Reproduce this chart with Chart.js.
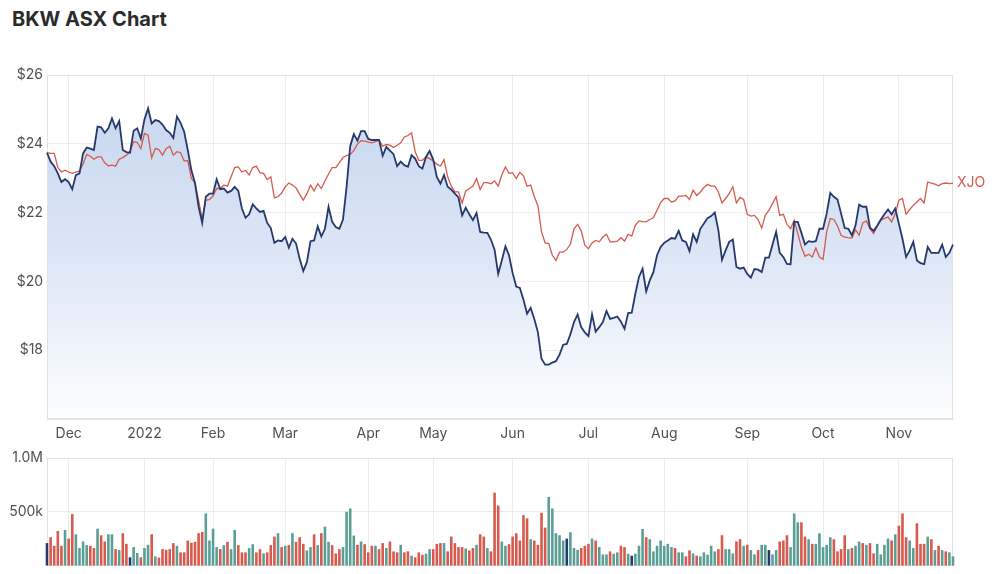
<!DOCTYPE html>
<html><head><meta charset="utf-8">
<script src="https://cdn.jsdelivr.net/npm/chart.js@4.4.0/dist/chart.umd.min.js"></script>
<style>
html,body{margin:0;padding:0;background:#fff;width:1000px;height:574px;overflow:hidden;}
#title{position:absolute;left:12px;top:7px;font:bold 20px Inter, sans-serif;color:#2b2b2b;}
canvas{position:absolute;left:0;}
</style></head><body>
<div id="title">BKW ASX Chart</div>
<canvas id="price" width="1000" height="450" style="top:0"></canvas>
<canvas id="vol" width="1000" height="134" style="top:444px"></canvas>
<script>
// ---- data ----
const startDate = '2021-11-23';
const endDate = '2022-11-22';
const holidays = ['2021-12-27','2021-12-28','2022-01-03','2022-01-26','2022-04-15','2022-04-18','2022-04-25','2022-06-13','2022-09-22'];
const monthNames = ['Jan','Feb','Mar','Apr','May','Jun','Jul','Aug','Sep','Oct','Nov','Dec'];
const priceTicks = [26,24,22,20,18];
const volumeTicks = [1000000,500000];
const seriesLabel = 'XJO';

const bkw = [
23.74,23.48,23.35,23.14,22.89,22.97,22.89,22.68,23.09,23.14,
23.72,23.89,23.86,23.82,24.50,24.48,24.32,24.45,24.74,24.45,
24.66,23.82,23.76,23.74,24.38,24.45,24.15,24.71,25.03,24.59,
24.69,24.66,24.56,24.40,24.32,24.17,24.79,24.61,24.35,23.82,
23.23,22.86,22.17,21.70,22.46,22.55,22.55,22.97,22.68,22.70,
22.58,22.63,22.75,22.63,22.12,21.85,21.95,22.24,22.12,22.02,
22.05,21.70,21.55,21.12,21.19,21.17,21.29,20.98,21.24,21.10,
20.66,20.30,20.56,21.17,21.19,21.60,21.31,21.53,22.17,21.73,
21.58,21.53,21.80,22.75,23.93,24.28,24.09,24.37,24.37,24.14,
24.11,24.11,24.11,23.65,23.91,23.80,23.70,23.35,23.48,23.38,
23.33,23.67,23.57,23.35,23.28,23.62,23.79,23.54,23.04,22.84,
23.09,22.75,22.67,22.55,22.44,21.92,22.14,21.95,21.78,21.99,
21.44,21.42,21.41,21.21,20.92,20.22,20.61,21.02,20.76,20.24,
19.85,19.81,19.47,19.06,19.23,18.91,18.52,17.75,17.58,17.58,
17.64,17.68,17.87,18.16,18.18,18.46,18.82,19.04,18.67,18.52,
18.41,19.04,18.54,18.67,18.82,19.14,18.91,18.94,18.98,18.83,
18.62,19.08,19.09,19.64,20.13,20.37,19.71,20.03,20.27,20.76,
21.00,21.12,21.19,21.26,21.24,21.47,21.19,21.15,20.88,21.37,
21.15,21.53,21.68,21.84,21.90,22.00,21.49,20.63,20.90,21.15,
21.22,20.42,20.37,20.40,20.22,20.11,20.36,20.34,20.27,20.69,
20.69,21.07,21.44,20.83,20.71,20.51,20.50,21.73,21.73,21.41,
21.07,21.17,21.15,21.17,21.53,21.53,21.97,22.57,22.46,22.38,
21.97,21.55,21.53,21.34,21.63,22.23,22.17,22.17,21.56,21.47,
21.62,21.80,21.95,22.09,21.95,22.12,21.68,21.24,20.71,20.90,
21.15,20.61,20.53,20.50,21.00,20.83,20.83,20.83,21.07,20.71,
20.83,21.07];

const xjo = [
23.74,23.72,23.72,23.31,23.18,23.23,23.18,23.14,23.18,23.21,
23.41,23.69,23.64,23.55,23.62,23.62,23.45,23.36,23.38,23.35,
23.55,23.60,23.67,23.77,24.06,24.04,23.86,24.30,24.25,23.59,
23.86,23.83,23.67,23.86,23.93,23.67,23.77,23.74,23.50,23.51,
22.99,22.86,22.36,21.80,22.36,22.38,22.48,22.70,22.70,22.80,
22.77,23.04,23.31,23.33,23.18,23.23,23.09,23.31,23.35,23.16,
23.14,22.96,23.04,22.43,22.46,22.57,22.75,22.86,22.80,22.72,
22.53,22.36,22.55,22.80,22.63,22.84,22.70,22.92,23.12,23.31,
23.31,23.45,23.60,23.66,23.69,23.80,23.99,24.09,24.08,24.05,
24.03,24.06,24.11,23.93,23.98,23.96,23.89,23.96,24.03,24.20,
24.24,24.32,23.77,23.52,23.52,23.62,23.57,23.50,23.41,23.35,
23.54,23.04,22.77,22.60,22.60,22.28,22.63,22.70,22.77,22.99,
22.67,22.87,22.87,22.84,22.92,22.77,23.09,23.33,23.14,23.16,
22.99,23.17,23.07,22.77,22.80,22.46,22.20,21.44,21.12,21.10,
20.76,20.61,20.85,20.85,20.93,21.08,21.53,21.66,21.47,21.05,
20.95,21.12,21.19,21.15,21.29,21.37,21.15,21.15,21.17,21.27,
21.17,21.37,21.32,21.63,21.76,21.74,21.73,21.80,21.85,22.07,
22.29,22.41,22.41,22.31,22.34,22.48,22.48,22.50,22.38,22.65,
22.50,22.60,22.73,22.82,22.77,22.77,22.60,22.28,22.41,22.55,
22.75,22.28,22.44,22.38,21.95,21.90,21.92,21.80,21.55,21.92,
22.07,22.26,22.46,21.92,21.95,21.66,21.53,21.78,21.39,21.00,
20.73,20.79,20.71,20.97,20.71,20.64,21.44,21.83,21.80,21.61,
21.34,21.29,21.27,21.26,21.50,21.34,21.70,21.76,21.53,21.39,
21.60,21.78,21.83,21.87,21.73,21.97,22.36,22.41,21.95,22.09,
22.21,22.31,22.41,22.28,22.89,22.86,22.83,22.78,22.84,22.86,
22.84,22.86];

// volume in thousands of shares
const volumeK = [
209,264,184,322,184,331,251,478,291,163,
224,190,184,163,343,282,224,291,291,153,
144,301,202,77,172,117,77,163,193,291,
86,74,153,147,153,209,184,123,123,233,
212,221,301,313,485,233,343,172,153,190,
221,153,331,190,123,123,163,199,123,153,
113,123,190,270,301,172,184,190,301,221,
264,202,141,172,291,190,301,362,221,190,
113,153,172,500,531,279,193,224,199,123,
184,184,153,209,163,224,132,123,193,123,
132,92,77,123,101,110,153,153,202,209,
209,132,270,209,172,172,159,141,163,193,
291,270,163,132,678,558,224,184,199,270,
301,233,469,439,245,233,193,491,353,638,
531,301,282,233,251,310,163,147,163,184,
202,251,233,172,104,104,132,110,123,184,
172,110,92,110,184,340,264,245,132,184,
233,184,202,172,163,123,123,86,141,113,
92,86,123,101,184,132,153,282,153,153,
113,224,245,184,193,144,104,144,193,193,
144,104,144,224,233,282,172,485,402,402,
270,245,202,202,301,172,193,264,245,132,
153,282,153,163,184,224,209,193,209,113,
202,104,193,251,233,291,371,485,264,233,
163,393,202,202,270,245,144,184,144,132,
123,86];

// day direction: u = up, d = down, n = unchanged
const volumeDirection = [
'nddddudduu','uudduddu ud','uddnuuduud','uddddduddd',
'dddduuuudu','duudddu udd','udddudud ud','dduududuud',
'dduuuududd','duddudddud','duddduuddd','udddddu ddu',
'dduddduudd','dddduddddu','uuuunuuudd','dudu uudu ud',
'dunuuuduuu','uuuuduuddu','duuuuudduu','udduduudu u',
'nuudddu uud','duduuuuudd','ddudu udud d','uuuudu dddu',
'udddudu dud','uu'].join('').replace(/ /g,'').split('');

// ---- calendar ----
function tradingDays(){
  const out=[]; const d=new Date(startDate+'T00:00:00Z'); const end=new Date(endDate+'T00:00:00Z');
  while(d<=end){
    const wd=d.getUTCDay(); const iso=d.toISOString().slice(0,10);
    if(wd!==0&&wd!==6&&!holidays.includes(iso)) out.push(iso);
    d.setUTCDate(d.getUTCDate()+1);
  }
  return out;
}
const dates = tradingDays();
const monthStarts = [];
for(let i=1;i<dates.length;i++){ if(dates[i].slice(5,7)!==dates[i-1].slice(5,7)) monthStarts.push(i); }
function monthLabel(i){ const m=+dates[i].slice(5,7)-1; return m===0 ? dates[i].slice(0,4) : monthNames[m]; }

const RED='#d65a4d', TEAL='#5b9e96', NAVY='#26386c';
const GRID='#ececec', BORDER='#e2e2e2';
Chart.defaults.font.family='Inter, "Open Sans", sans-serif';
Chart.defaults.font.size=14;
Chart.defaults.color='#505050';

const boxPlugin={id:'box', beforeDatasetsDraw(c){const {ctx,chartArea:a}=c; ctx.save(); ctx.strokeStyle=BORDER; ctx.lineWidth=1;
  ctx.strokeRect(Math.round(a.left)+0.5, Math.round(a.top)+0.5, Math.round(a.right-a.left)-1, Math.round(a.bottom-a.top)-1); ctx.restore();}};
const endLabelPlugin={id:'endLabel', afterDatasetsDraw(c){const m=c.getDatasetMeta(1); const p=m.data[m.data.length-1]; const ctx=c.ctx;
  ctx.save(); ctx.fillStyle=RED; ctx.font='14px Inter, sans-serif'; ctx.textBaseline='middle'; ctx.textAlign='left'; ctx.fillText(seriesLabel, p.x+4, p.y); ctx.restore();}};

function xScale(showLabels){
  return {type:'category', offset:false,
    grid:{color:GRID, drawTicks:false, offset:false}, border:{color:BORDER},
    ticks:{display:showLabels, autoSkip:false, maxRotation:0, padding:6, callback:(v)=>monthLabel(v)},
    afterBuildTicks:(s)=>{ s.ticks = monthStarts.map(i=>({value:i})); },
    afterFit:(s)=>{ s.height = showLabels?31:0; }};
}

new Chart(document.getElementById('price'),{
  type:'line',
  data:{labels:dates, datasets:[
    {label:'BKW', data:bkw, borderColor:NAVY, borderWidth:1.8, pointRadius:0, tension:0, fill:'start',
     backgroundColor:(ctx)=>{const ca=ctx.chart.chartArea; if(!ca) return 'rgba(205,219,240,1)';
       const g=ctx.chart.ctx.createLinearGradient(0,ca.top,0,ca.bottom);
       g.addColorStop(0,'rgb(196,213,238)'); g.addColorStop(0.5,'rgb(219,229,245)'); g.addColorStop(1,'rgb(253,254,255)'); return g;}},
    {label:'XJO', data:xjo, borderColor:RED, borderWidth:1.3, pointRadius:0, tension:0, fill:false}
  ]},
  options:{responsive:false, animation:false, events:[],
    layout:{padding:{top:75,right:47,left:0,bottom:0}},
    plugins:{legend:{display:false}, tooltip:{enabled:false}, filler:{drawTime:'beforeDatasetsDraw'}},
    scales:{
      x:xScale(true),
      y:{min:16, max:26, grid:{color:GRID, drawTicks:false}, border:{display:false},
         ticks:{padding:4, stepSize:2, callback:(v)=> priceTicks.includes(v)?'$'+v:null},
         afterFit:(s)=>{s.width=47;}}
    }},
  plugins:[boxPlugin,endLabelPlugin]
});

new Chart(document.getElementById('vol'),{
  type:'bar',
  data:{labels:dates, datasets:[
    {label:'Volume', data:volumeK.map(v=>v*1000), clip:false,
     backgroundColor:volumeDirection.map(d=> d==='u'?TEAL:(d==='d'?RED:NAVY)),
     barPercentage:0.72, categoryPercentage:1}
  ]},
  options:{responsive:false, animation:false, events:[],
    layout:{padding:{top:14,right:47,left:0,bottom:3}},
    plugins:{legend:{display:false}, tooltip:{enabled:false}},
    scales:{
      x:xScale(false),
      y:{min:0, max:1000000, grid:{color:GRID, drawTicks:false}, border:{display:false},
         ticks:{padding:4, stepSize:500000, callback:(v)=> volumeTicks.includes(v)?(v>=1000000?(v/1000000).toFixed(1)+'M':(v/1000)+'k'):null},
         afterFit:(s)=>{s.width=47;}}
    }},
  plugins:[boxPlugin]
});
</script>
</body></html>
